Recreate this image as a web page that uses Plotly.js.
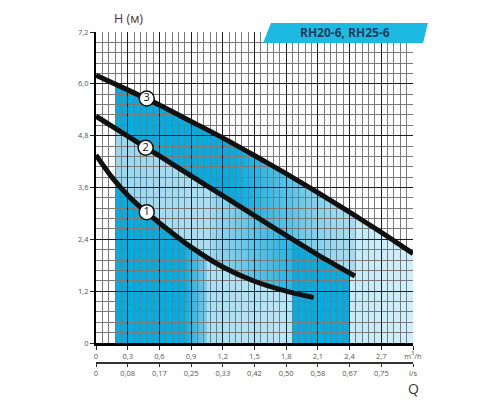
<!DOCTYPE html>
<html>
<head>
<meta charset="utf-8">
<script src="https://cdn.plot.ly/plotly-3.0.1.min.js"></script>
<style>html,body{margin:0;padding:0;background:#fff;}#chart{width:500px;height:400px;}</style>
</head>
<body>
<div id="chart"></div>
<script>
// ---- data (flow Q in m³/h, head H in m) ----
const q1 = [0, 0.15, 0.3, 0.45, 0.6, 0.9, 1.2, 1.5, 1.8, 2.06];
const h1 = [4.35, 3.84, 3.42, 3.08, 2.78, 2.22, 1.76, 1.43, 1.2, 1.05];
const q2 = [0, 0.3, 0.6, 0.9, 1.2, 1.5, 1.8, 2.1, 2.45];
const h2 = [5.25, 4.79, 4.33, 3.87, 3.41, 2.95, 2.49, 2.04, 1.55];
const q3 = [0, 0.3, 0.6, 0.9, 1.2, 1.5, 1.8, 2.1, 2.4, 2.7, 3.0];
const h3 = [6.2, 5.86, 5.51, 5.13, 4.75, 4.34, 3.92, 3.48, 3.03, 2.56, 2.07];
const labelQ = [0.48, 0.47, 0.48];
const labelH = [3.03, 4.52, 5.66];
const labelText = ['1', '2', '3'];
const qTicks = [0, 0.3, 0.6, 0.9, 1.2, 1.5, 1.8, 2.1, 2.4, 2.7, 3.0];
const qTickText = ['0', '0,3', '0,6', '0,9', '1,2', '1,5', '1,8', '2,1', '2,4', '2,7', 'm<sup>3</sup>/h'];
const lsTickText = ['0', '0,08', '0,17', '0,25', '0,33', '0,42', '0,50', '0,58', '0,67', '0,75', 'l/s'];
const hTicks = [0, 1.2, 2.4, 3.6, 4.8, 6.0, 7.2];
const hTickText = ['0', '1,2', '2,4', '3,6', '4,8', '6,0', '7,2'];
const modelName = 'RH20-6, RH25-6';

// ---- helpers for shaded working areas (derived from the curves) ----
function interp(xs, ys, x) {
  for (let i = 0; i < xs.length - 1; i++) {
    if (x >= xs[i] && x <= xs[i + 1]) {
      const t = (x - xs[i]) / (xs[i + 1] - xs[i]);
      return ys[i] + t * (ys[i + 1] - ys[i]);
    }
  }
  return ys[ys.length - 1];
}
function seg(xs, ys, a, b) {
  const X = [a], Y = [interp(xs, ys, a)];
  xs.forEach((x, i) => { if (x > a && x < b) { X.push(x); Y.push(ys[i]); } });
  X.push(b); Y.push(interp(xs, ys, b));
  return [X, Y];
}
function band(upper, lower, a, b) {
  const [ux, uy] = seg(upper[0], upper[1], a, b);
  let lx, ly;
  if (lower) { [lx, ly] = seg(lower[0], lower[1], a, b); lx.reverse(); ly.reverse(); }
  else { lx = [b, a]; ly = [0, 0]; }
  return { x: ux.concat(lx), y: uy.concat(ly) };
}
const C1 = [q1, h1], C2 = [q2, h2], C3 = [q3, h3];
const DARK = 'rgb(0,174,228)';
function area(poly, start, stop, scale) {
  return {
    type: 'scatter', mode: 'lines', x: poly.x, y: poly.y, xaxis: 'x', yaxis: 'y',
    fill: 'toself', line: { width: 0, color: 'rgba(0,0,0,0)' }, fillcolor: scale[0][1],
    fillgradient: { type: 'horizontal', start: start, stop: stop, colorscale: scale },
    hoverinfo: 'skip', showlegend: false
  };
}

const traces = [
  area(band(C3, null, 0.18, 3.0), 0.18, 3.0, [[0, 'rgb(150,216,242)'], [1, 'rgb(208,240,251)']]),
  area(band(C3, C2, 0.18, 2.45), 0.18, 2.45, [[0, DARK], [0.5, DARK], [0.9, 'rgb(150,216,242)'], [1, 'rgb(165,222,244)']]),
  area(band(C1, null, 0.18, 1.05), 0.18, 1.05, [[0, DARK], [0.75, DARK], [1, 'rgb(120,205,238)']]),
  area(band(C2, C1, 1.1, 2.06), 1.1, 2.06, [[0, 'rgb(150,216,242)'], [0.7, 'rgb(40,186,232)'], [1, 'rgb(30,183,231)']]),
  area(band(C2, null, 1.86, 2.4), 1.86, 2.4, [[0, DARK], [1, DARK]]),
];

const curveLine = { color: '#111', width: 5, shape: 'spline', smoothing: 0.6 };
[[q1, h1], [q2, h2], [q3, h3]].forEach(c => {
  traces.push({ type: 'scatter', mode: 'lines', x: c[0], y: c[1], xaxis: 'x2', yaxis: 'y2',
    line: curveLine, hoverinfo: 'skip', showlegend: false });
});
traces.push({ type: 'scatter', mode: 'markers+text', x: labelQ, y: labelH, text: labelText,
  xaxis: 'x2', yaxis: 'y2', textposition: 'middle center',
  marker: { size: 15, color: 'white', line: { color: '#111', width: 1.5 } },
  textfont: { family: 'Open Sans, sans-serif', size: 11, color: '#111' },
  hoverinfo: 'skip', showlegend: false });
traces.push({ type: 'scatter', mode: 'lines', x: [], y: [], xaxis: 'x3', yaxis: 'y2', showlegend: false, hoverinfo: 'skip' });

const d = 0.0604;
const tickFont = { family: 'Open Sans, sans-serif', size: 7.5, color: '#555' };
const layout = {
  width: 500, height: 400,
  margin: { l: 96, r: 87, t: 32, b: 37, pad: 0 },
  paper_bgcolor: '#fff', plot_bgcolor: 'rgba(0,0,0,0)',
  separators: ', ',
  showlegend: false,
  xaxis: { domain: [0, 1], anchor: 'y', range: [0, 3], visible: false, fixedrange: true },
  yaxis: { domain: [d, 1], anchor: 'x', range: [0, 7.2], visible: false, fixedrange: true },
  xaxis2: {
    domain: [0, 1], anchor: 'y2', range: [0, 3], fixedrange: true,
    tickmode: 'array', tickvals: qTicks, ticktext: qTickText,
    showgrid: true, gridcolor: '#1e1e1e', gridwidth: 1, zeroline: false,
    minor: { tick0: 0, dtick: 0.06, showgrid: true, gridcolor: '#7a7a7a', gridwidth: 1, ticks: '' },
    showline: true, linecolor: '#000', linewidth: 2.5,
    ticks: 'outside', ticklen: 4, tickcolor: '#222', tickwidth: 1, tickfont: tickFont
  },
  yaxis2: {
    domain: [d, 1], anchor: 'x2', range: [0, 7.2], fixedrange: true,
    tickmode: 'array', tickvals: hTicks, ticktext: hTickText,
    showgrid: true, gridcolor: '#1e1e1e', gridwidth: 1, zeroline: false,
    minor: { tick0: 0, dtick: 0.24, showgrid: true, gridcolor: '#7a7a7a', gridwidth: 1, ticks: '' },
    showline: true, linecolor: '#000', linewidth: 2,
    ticks: 'outside', ticklen: 4, tickcolor: '#222', tickwidth: 1, tickfont: tickFont
  },
  xaxis3: {
    overlaying: 'x2', anchor: 'free', position: 0, side: 'bottom', range: [0, 3], fixedrange: true,
    tickmode: 'array', tickvals: qTicks, ticktext: lsTickText,
    showgrid: false, zeroline: false, showline: true, linecolor: '#333', linewidth: 2,
    ticks: 'outside', ticklen: 3, tickcolor: '#333', tickfont: tickFont
  },
  shapes: [{
    type: 'path', xref: 'paper', yref: 'paper', layer: 'above',
    path: 'M 0.527 0.967 L 0.552 1.027 L 1.047 1.027 L 1.032 0.967 Z',
    fillcolor: 'rgb(28,186,226)', line: { width: 0 }
  }],
  annotations: [
    { xref: 'paper', yref: 'paper', x: 0.785, y: 0.997, xanchor: 'center', yanchor: 'middle',
      text: '<b>' + modelName + '</b>', showarrow: false,
      font: { family: 'Open Sans, sans-serif', size: 12, color: '#1e3d5c' } },
    { xref: 'paper', yref: 'paper', x: 0.104, y: 1.042, xanchor: 'center', yanchor: 'middle',
      text: 'H (м)', showarrow: false,
      font: { family: 'Open Sans, sans-serif', size: 12.5, color: '#3a3a3a' } },
    { xref: 'paper', yref: 'paper', x: 1.0, y: -0.077, xanchor: 'center', yanchor: 'middle',
      text: 'Q', showarrow: false,
      font: { family: 'Open Sans, sans-serif', size: 14, color: '#333' } }
  ]
};
Plotly.newPlot('chart', traces, layout, { staticPlot: true, displayModeBar: false });
</script>
</body>
</html>
